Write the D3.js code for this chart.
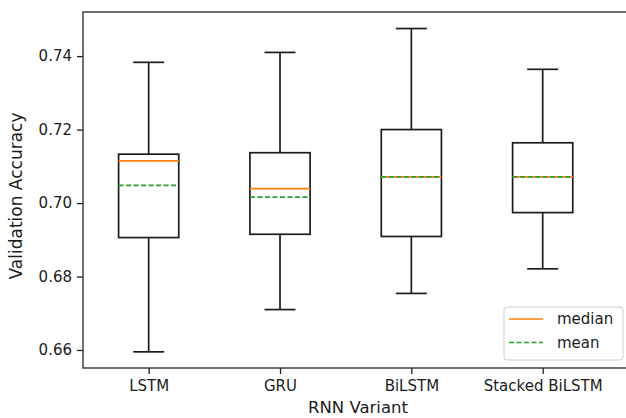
<!DOCTYPE html>
<html lang="en">
  <head>
    <meta charset="utf-8">
    <title>RNN variants</title>
    <style>
      body { margin: 0; background: #fff; }
      svg { display: block; font-family: "DejaVu Sans", sans-serif; }
    </style>
  </head>
  <body>
    <svg id="chart" width="626" height="418"></svg>
  </body>
  <script src="https://cdn.jsdelivr.net/npm/d3@7"></script>
  <script type="text/javascript">

    // values
    var variants = ['LSTM', 'GRU', 'BiLSTM', 'Stacked BiLSTM'];
    var whiskerLow = [0.6595, 0.6710, 0.6754, 0.6821];
    var q1 = [0.6906, 0.6915, 0.6909, 0.6974];
    var median = [0.7115, 0.7039, 0.7071, 0.7071];
    var mean = [0.7048, 0.7016, 0.7071, 0.7071];
    var q3 = [0.7133, 0.7137, 0.7200, 0.7164];
    var whiskerHigh = [0.7383, 0.7410, 0.7475, 0.7364];
    var yTicks = [0.66, 0.68, 0.70, 0.72, 0.74];

    var svg = d3.select('#chart');
    var pLeft = 83, pRight = 632, pTop = 12, pBottom = 368;

    var x = d3.scaleLinear().domain([0.5, 4.68]).range([pLeft, pRight]);
    var y = d3.scaleLinear().domain([0.6551, 0.752]).range([pBottom, pTop]);

    var boxes = variants.map(function(name, i) {
      return { name: name, pos: i + 1, lo: whiskerLow[i], q1: q1[i], med: median[i],
               mean: mean[i], q3: q3[i], hi: whiskerHigh[i] };
    });

    var boxHalf = 0.229, capHalf = 0.118;
    var ink = '#1c1c1c', lw = 1.7;

    // axes
    var yAxis = d3.axisLeft(y).tickValues(yTicks).tickFormat(d3.format('.2f')).tickSizeOuter(0).tickSize(6).tickPadding(5);
    var gy = svg.append('g').attr('transform', 'translate(' + pLeft + ',0)').call(yAxis);
    var xAxis = d3.axisBottom(x).tickValues([1, 2, 3, 4]).tickFormat(function(d) { return variants[d - 1]; }).tickSizeOuter(0).tickSize(6).tickPadding(6);
    var gx = svg.append('g').attr('transform', 'translate(0,' + pBottom + ')').call(xAxis);
    [gx, gy].forEach(function(g) {
      g.select('.domain').remove();
      g.selectAll('.tick line').attr('stroke', ink).attr('stroke-width', 1.3);
      g.selectAll('.tick text').attr('fill', ink).style('font-size', '15px').style('font-family', '"DejaVu Sans", sans-serif');
    });

    // frame
    svg.append('rect').attr('x', pLeft).attr('y', pTop).attr('width', pRight - pLeft).attr('height', pBottom - pTop)
      .attr('fill', 'none').attr('stroke', '#333').attr('stroke-width', 1.4);

    var g = svg.append('g').selectAll('g').data(boxes).enter().append('g');

    g.append('line')
      .attr('x1', function(d) { return x(d.pos); }).attr('x2', function(d) { return x(d.pos); })
      .attr('y1', function(d) { return y(d.hi); }).attr('y2', function(d) { return y(d.q3); })
      .attr('stroke', ink).attr('stroke-width', lw);
    g.append('line')
      .attr('x1', function(d) { return x(d.pos); }).attr('x2', function(d) { return x(d.pos); })
      .attr('y1', function(d) { return y(d.q1); }).attr('y2', function(d) { return y(d.lo); })
      .attr('stroke', ink).attr('stroke-width', lw);
    ['hi', 'lo'].forEach(function(k) {
      g.append('line')
        .attr('x1', function(d) { return x(d.pos - capHalf); }).attr('x2', function(d) { return x(d.pos + capHalf); })
        .attr('y1', function(d) { return y(d[k]); }).attr('y2', function(d) { return y(d[k]); })
        .attr('stroke', ink).attr('stroke-width', lw);
    });
    g.append('rect')
      .attr('x', function(d) { return x(d.pos - boxHalf); })
      .attr('width', function(d) { return x(d.pos + boxHalf) - x(d.pos - boxHalf); })
      .attr('y', function(d) { return y(d.q3); })
      .attr('height', function(d) { return y(d.q1) - y(d.q3); })
      .attr('fill', 'none').attr('stroke', ink).attr('stroke-width', lw);
    g.append('line')
      .attr('x1', function(d) { return x(d.pos - boxHalf); }).attr('x2', function(d) { return x(d.pos + boxHalf); })
      .attr('y1', function(d) { return y(d.med); }).attr('y2', function(d) { return y(d.med); })
      .attr('stroke', '#ff7f0e').attr('stroke-width', lw);
    g.append('line')
      .attr('x1', function(d) { return x(d.pos - boxHalf); }).attr('x2', function(d) { return x(d.pos + boxHalf); })
      .attr('y1', function(d) { return y(d.mean); }).attr('y2', function(d) { return y(d.mean); })
      .attr('stroke', '#2ca02c').attr('stroke-width', lw).attr('stroke-dasharray', '5,2.5');

    // axis labels
    svg.append('text').attr('x', 358).attr('y', 413).attr('text-anchor', 'middle')
      .style('font-size', '16.5px').attr('fill', ink).text('RNN Variant');
    svg.append('text').attr('transform', 'translate(22,196) rotate(-90)').attr('text-anchor', 'middle')
      .style('font-size', '17px').attr('fill', ink).text('Validation Accuracy');

    // legend
    var lg = svg.append('g').attr('transform', 'translate(504,307)');
    lg.append('rect').attr('width', 119).attr('height', 53).attr('rx', 3)
      .attr('fill', 'rgba(255,255,255,0.8)').attr('stroke', '#ccc');
    var items = [{ label: 'median', color: '#ff7f0e', dash: null }, { label: 'mean', color: '#2ca02c', dash: '5,2.5' }];
    items.forEach(function(it, i) {
      var yy = 12 + i * 23.5;
      lg.append('line').attr('x1', 5).attr('x2', 39).attr('y1', yy).attr('y2', yy)
        .attr('stroke', it.color).attr('stroke-width', 1.5).attr('stroke-dasharray', it.dash);
      lg.append('text').attr('x', 53).attr('y', yy + 5).style('font-size', '15px').attr('fill', ink).text(it.label);
    });

  </script>
</html>
